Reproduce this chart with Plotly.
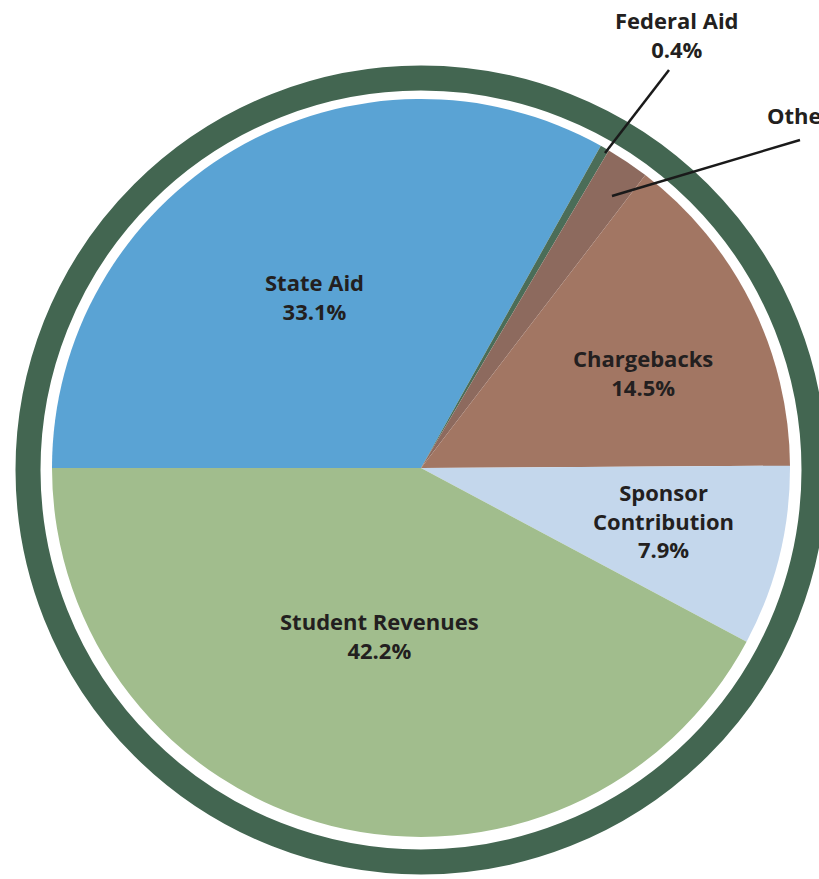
import plotly.graph_objects as go

W, H = 819, 879

# Data
categories = ["State Aid", "Federal Aid", "Other", "Chargebacks", "Sponsor Contribution", "Student Revenues"]
values = [33.1, 0.4, 1.9, 14.5, 7.9, 42.2]
label_texts = ["State Aid<br>33.1%", "Federal Aid<br>0.4%", "Other 1.9%", "Chargebacks<br>14.5%",
               "Sponsor<br>Contribution<br>7.9%", "Student Revenues<br>42.2%"]
colors = ["#5aa3d4", "#4b6d58", "#8d6a5e", "#a27663", "#c4d7ec", "#a1bd8d"]

def px(x):
    return x / W

def py(y):
    return 1 - y / H

fig = go.Figure()
fig.add_trace(go.Pie(
    labels=categories,
    values=values,
    sort=False,
    direction="clockwise",
    rotation=-90,
    marker=dict(colors=colors, line=dict(width=0)),
    textinfo="none",
    hoverinfo="label+percent",
    domain=dict(x=[px(52), px(790)], y=[py(837), py(99)]),
    showlegend=False,
))

shapes = [
    dict(type="circle", xref="paper", yref="paper",
         x0=px(28), x1=px(814), y0=py(862), y1=py(78),
         line=dict(color="#436651", width=25), fillcolor="rgba(0,0,0,0)", layer="below"),
    dict(type="line", xref="paper", yref="paper",
         x0=px(669), y0=py(70), x1=px(605), y1=py(153),
         line=dict(color="#1a1a1a", width=2.5)),
    dict(type="line", xref="paper", yref="paper",
         x0=px(800), y0=py(140), x1=px(612), y1=py(196),
         line=dict(color="#1a1a1a", width=2.5)),
]

font = dict(family="Open Sans", size=22, color="#231f20", weight="bold")
label_pos = {
    "State Aid": (314, 297, "center"),
    "Federal Aid": (677, 34, "center"),
    "Other": (765, 115, "left"),
    "Chargebacks": (643, 372, "center"),
    "Sponsor Contribution": (663, 520, "center"),
    "Student Revenues": (379, 635, "center"),
}
annotations = []
for cat, txt in zip(categories, label_texts):
    x, y, anc = label_pos[cat]
    annotations.append(dict(
        x=px(x), y=py(y), xref="paper", yref="paper",
        text=txt, showarrow=False, xanchor=anc, yanchor="middle",
        align="center", font=font,
    ))

fig.update_layout(
    width=W, height=H,
    margin=dict(l=0, r=0, t=0, b=0),
    paper_bgcolor="white", plot_bgcolor="white",
    shapes=shapes, annotations=annotations,
)

fig.write_html("out.html",
               config={"displayModeBar": False},
               post_script="document.body.style.margin='0';document.body.style.overflow='hidden';")
